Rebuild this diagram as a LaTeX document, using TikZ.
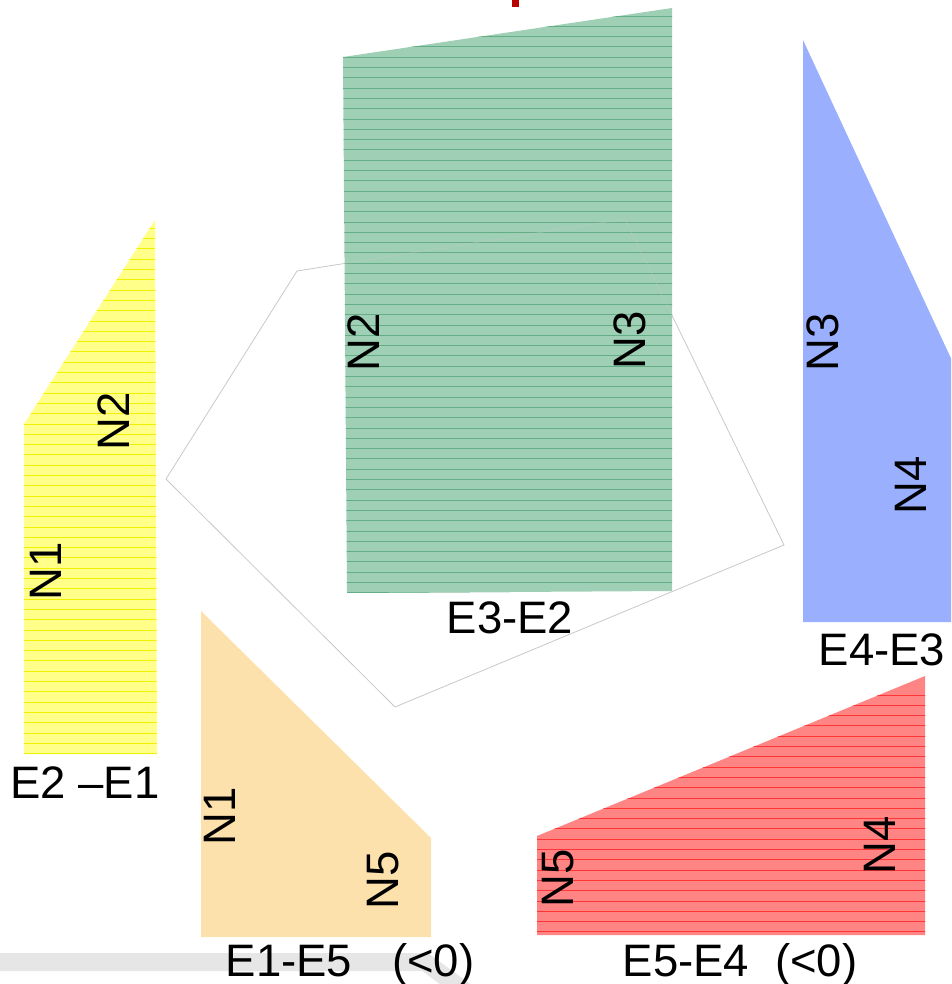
\documentclass[tikz,border=0pt]{standalone}
\usepackage{fontspec}
\setmainfont{Liberation Sans}
\usepackage{xcolor}
\definecolor{yelfill}{HTML}{FFFF8A}
\definecolor{yelline}{HTML}{F0F000}
\definecolor{grnfill}{HTML}{9FD0B6}
\definecolor{grnline}{HTML}{64AE87}
\definecolor{blufill}{HTML}{9AB0FF}
\definecolor{orafill}{HTML}{FDE1AD}
\definecolor{redfill}{HTML}{FF8585}
\definecolor{redline}{HTML}{FF3434}
\definecolor{pentline}{HTML}{C8C8C8}
\definecolor{bandgray}{HTML}{E6E6E6}
\definecolor{markred}{HTML}{B80000}

\begin{document}
\begin{tikzpicture}[x=1pt,y=-1pt,
  lbl/.style={font=\fontsize{45.5}{50}\selectfont, inner sep=0pt},
  nlbl/.style={lbl, rotate=90},
  hatch/.style={line width=0.9pt},
  pent/.style={pentline, line width=0.8pt}]
  \useasboundingbox (0,0) rectangle (951,984);
  \clip (0,0) rectangle (951,984);
  % grey band at the bottom
  \draw[bandgray, line width=18pt] (0,962) -- (425,962) -- (470,995);
  \fill[markred] (512,0) rectangle (519,7);
  % pentagon outline (under the shapes)
  \draw[pent] (297,271) -- (625,219) -- (784,545)
    -- (395,707) -- (166,479) -- cycle;
  % E2-E1
  \begin{scope}
    \clip (24,424) -- (155,220) -- (157,754) -- (24,754) -- cycle;
    \fill[yelfill] (0,200) rectangle (160,760);
    \foreach \y in {228.3,238.6,...,754}
      \draw[yelline, hatch] (0,\y) -- (160,\y);
  \end{scope}
  % E3-E2
  \begin{scope}
    \clip (343,57) -- (672,8) -- (672,591) -- (347,593) -- cycle;
    \fill[grnfill] (340,0) rectangle (680,600);
    \foreach \y in {16,26.3,...,593}
      \draw[grnline, hatch] (340,\y) -- (680,\y);
    \draw[pent, opacity=0.4] (297,271) -- (625,219) -- (784,545);
  \end{scope}
  % E4-E3
  \fill[blufill] (803,40) -- (962,382) -- (962,622) -- (803,622) -- cycle;
  % E1-E5
  \fill[orafill] (201,611) -- (431,838) -- (431,937) -- (201,937) -- cycle;
  % E5-E4
  \begin{scope}
    \clip (537,836) -- (925,676) -- (925,935) -- (537,935) -- cycle;
    \fill[redfill] (530,670) rectangle (930,940);
    \foreach \y in {695,705.3,...,935}
      \draw[redline, hatch] (530,\y) -- (930,\y);
  \end{scope}
  % labels
  \node[nlbl] (y-n2) at (114,421) {N2};
  \node[nlbl] (y-n1) at (46,571) {N1};
  \node[lbl, anchor=base] (y-e) at (85,798) {E2 –E1};
  \node[nlbl] (g-n2) at (364,342) {N2};
  \node[nlbl] (g-n3) at (630,340) {N3};
  \node[lbl, anchor=base] (g-e) at (510,633) {E3-E2};
  \node[nlbl] (b-n3) at (823,342) {N3};
  \node[nlbl] (b-n4) at (911,485) {N4};
  \node[lbl, anchor=base] (b-e) at (882,665) {E4-E3};
  \node[nlbl] (o-n1) at (220,816) {N1};
  \node[nlbl] (o-n5) at (383,880) {N5};
  \node[lbl, anchor=base] (o-e) at (350,976) {E1-E5\hspace{40pt}(<0)};
  \node[nlbl] (r-n5) at (558,878) {N5};
  \node[nlbl] (r-n4) at (880,845) {N4};
  \node[lbl, anchor=base] (r-e) at (740,976) {E5-E4\hspace{26pt}(<0)};
\end{tikzpicture}
\end{document}
